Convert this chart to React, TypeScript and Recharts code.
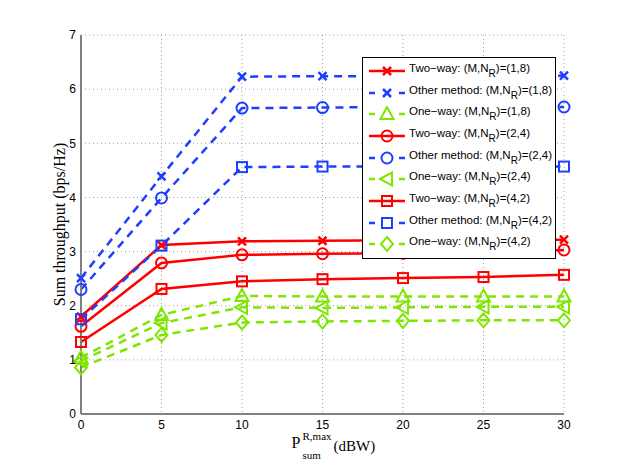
import React from 'react';
import { LineChart, Line, XAxis, YAxis, CartesianGrid, Legend, Label } from 'recharts';

const power = [0, 5, 10, 15, 20, 25, 30];

const twoWay18 = [1.8, 3.12, 3.19, 3.2, 3.21, 3.21, 3.22];
const other18 = [2.51, 4.39, 6.23, 6.24, 6.24, 6.24, 6.25];
const oneWay18 = [1.04, 1.83, 2.18, 2.17, 2.17, 2.17, 2.17];
const twoWay24 = [1.62, 2.79, 2.94, 2.96, 2.97, 2.99, 3.03];
const other24 = [2.3, 3.99, 5.65, 5.66, 5.67, 5.67, 5.67];
const oneWay24 = [0.98, 1.68, 1.97, 1.96, 1.97, 1.98, 1.98];
const twoWay42 = [1.33, 2.31, 2.45, 2.49, 2.51, 2.53, 2.57];
const other42 = [1.75, 3.11, 4.56, 4.57, 4.57, 4.57, 4.57];
const oneWay42 = [0.86, 1.46, 1.69, 1.71, 1.72, 1.73, 1.73];

const xTicks = [0, 5, 10, 15, 20, 25, 30];
const yTicks = [0, 1, 2, 3, 4, 5, 6, 7];

const RED = '#ff0000';
const BLUE = '#1f3fff';
const GREEN = '#7ee600';

const SERIF = '"Liberation Serif", "Times New Roman", serif';
const SANS = '"Liberation Sans", Arial, sans-serif';

type Shape = 'x' | 'o' | 'tri' | 'ltri' | 'sq' | 'dia';

const series = [
  { key: 'tw18', values: twoWay18, method: 'Two\u2212way', cfg: '(1,8)', color: RED, dashed: false, shape: 'x' as Shape },
  { key: 'ot18', values: other18, method: 'Other method', cfg: '(1,8)', color: BLUE, dashed: true, shape: 'x' as Shape },
  { key: 'ow18', values: oneWay18, method: 'One\u2212way', cfg: '(1,8)', color: GREEN, dashed: true, shape: 'tri' as Shape },
  { key: 'tw24', values: twoWay24, method: 'Two\u2212way', cfg: '(2,4)', color: RED, dashed: false, shape: 'o' as Shape },
  { key: 'ot24', values: other24, method: 'Other method', cfg: '(2,4)', color: BLUE, dashed: true, shape: 'o' as Shape },
  { key: 'ow24', values: oneWay24, method: 'One\u2212way', cfg: '(2,4)', color: GREEN, dashed: true, shape: 'ltri' as Shape },
  { key: 'tw42', values: twoWay42, method: 'Two\u2212way', cfg: '(4,2)', color: RED, dashed: false, shape: 'sq' as Shape },
  { key: 'ot42', values: other42, method: 'Other method', cfg: '(4,2)', color: BLUE, dashed: true, shape: 'sq' as Shape },
  { key: 'ow42', values: oneWay42, method: 'One\u2212way', cfg: '(4,2)', color: GREEN, dashed: true, shape: 'dia' as Shape },
];

const data = power.map((p, i) => {
  const row: Record<string, number> = { p };
  series.forEach((s) => { row[s.key] = s.values[i]; });
  return row;
});

const Marker = ({ cx, cy, shape, color }: { cx: number; cy: number; shape: Shape; color: string }) => {
  const common = { fill: 'none', stroke: color, strokeWidth: 2 };
  if (shape === 'x') {
    const d = 4;
    return (
      <g stroke={color} strokeWidth={2.5}>
        <line x1={cx - d} y1={cy - d} x2={cx + d} y2={cy + d} />
        <line x1={cx - d} y1={cy + d} x2={cx + d} y2={cy - d} />
      </g>
    );
  }
  if (shape === 'o') return <circle cx={cx} cy={cy} r={5.5} {...common} />;
  if (shape === 'sq') return <rect x={cx - 5} y={cy - 5} width={10} height={10} {...common} />;
  if (shape === 'tri') return <polygon points={`${cx},${cy - 7} ${cx + 6.5},${cy + 5} ${cx - 6.5},${cy + 5}`} {...common} />;
  if (shape === 'ltri') return <polygon points={`${cx - 7},${cy} ${cx + 5},${cy - 6.5} ${cx + 5},${cy + 6.5}`} {...common} />;
  return <polygon points={`${cx},${cy - 7} ${cx + 6},${cy} ${cx},${cy + 7} ${cx - 6},${cy}`} {...common} />;
};

const LegendBox = () => (
  <div
    style={{
      background: '#fff',
      border: '1px solid #000',
      width: 192,
      padding: '2px 0 3px 0',
      fontFamily: SANS,
      fontSize: 11.5,
      color: '#000',
    }}
  >
    {series.map((s) => (
      <div key={s.key} style={{ display: 'flex', alignItems: 'center', height: 21.7 }}>
        <svg width={44} height={16} style={{ marginLeft: 4, flexShrink: 0 }}>
          {s.dashed ? (
            <g stroke={s.color} strokeWidth={2.5}>
              <line x1={2} y1={8} x2={8} y2={8} />
              <line x1={32} y1={8} x2={38} y2={8} />
            </g>
          ) : (
            <line x1={2} y1={8} x2={38} y2={8} stroke={s.color} strokeWidth={2.5} />
          )}
          <Marker cx={20} cy={8} shape={s.shape} color={s.color} />
        </svg>
        <span style={{ whiteSpace: 'nowrap', marginLeft: -2, position: 'relative', top: -3 }}>
          {s.method}: (M,N
          <span style={{ fontSize: 10, position: 'relative', top: 5 }}>R</span>
          )={s.cfg}
        </span>
      </div>
    ))}
  </div>
);

const XLabel = ({ viewBox }: any) => {
  const cx = viewBox.x + viewBox.width / 2;
  const base = viewBox.y;
  const x0 = cx - 31;
  return (
    <g fontFamily={SERIF} fill="#000">
      <text x={x0} y={base + 34} fontSize={16}>P</text>
      <text x={x0 + 11} y={base + 26} fontSize={11}>R,max</text>
      <text x={x0 + 11} y={base + 45} fontSize={11}>sum</text>
      <text x={x0 + 42} y={base + 37} fontSize={15}>(dBW)</text>
    </g>
  );
};

export default function App() {
  return (
    <div style={{ position: 'absolute', left: 0, top: 0, width: 623, height: 467, background: '#fff' }}>
      <LineChart width={623} height={467} data={data} margin={{ top: 35, right: 59, bottom: 23, left: 51 }}>
        <CartesianGrid stroke="#a0a0a0" strokeDasharray="1 3" />
        <XAxis
          dataKey="p"
          type="number"
          domain={[0, 30]}
          ticks={xTicks}
          height={30}
          axisLine={{ stroke: '#808080', strokeWidth: 2 }}
          tickLine={false}
          tickSize={4}
          tickMargin={2}
          tick={{ fill: '#000', fontSize: 12, fontFamily: SANS }}
        >
          <Label content={<XLabel />} />
        </XAxis>
        <XAxis
          xAxisId="top"
          orientation="top"
          dataKey="p"
          type="number"
          domain={[0, 30]}
          ticks={xTicks}
          height={0}
          mirror
          axisLine={{ stroke: '#808080', strokeWidth: 2 }}
          tickLine={{ stroke: '#000' }}
          tickSize={4}
          tickFormatter={() => ''}
        />
        <YAxis
          type="number"
          domain={[0, 7]}
          ticks={yTicks}
          width={30}
          axisLine={{ stroke: '#808080', strokeWidth: 2 }}
          tickLine={false}
          tickSize={4}
          tickMargin={1}
          tick={{ fill: '#000', fontSize: 12, fontFamily: SANS }}
        >
          <Label
            value="Sum throughput (bps/Hz)"
            angle={-90}
            position="left"
            offset={-8}
            style={{ fontFamily: SERIF, fontSize: 16, fill: '#000', textAnchor: 'middle' }}
          />
        </YAxis>
        <YAxis
          yAxisId="right"
          orientation="right"
          type="number"
          domain={[0, 7]}
          ticks={yTicks}
          width={0}
          mirror
          axisLine={{ stroke: '#000', strokeWidth: 1.5 }}
          tickLine={{ stroke: '#000' }}
          tickSize={4}
          tickFormatter={() => ''}
        />
        {series.map((s) => (
          <Line
            key={s.key}
            dataKey={s.key}
            type="linear"
            stroke={s.color}
            strokeWidth={2.5}
            strokeDasharray={s.dashed ? '8 6' : undefined}
            isAnimationActive={false}
            dot={(props: any) => (
              <Marker key={`${s.key}-${props.index}`} cx={props.cx} cy={props.cy} shape={s.shape} color={s.color} />
            )}
            activeDot={false}
          />
        ))}
        <Legend
          layout="vertical"
          align="center"
          verticalAlign="middle"
          content={() => <LegendBox />}
          wrapperStyle={{ position: 'absolute', left: 362, top: 57, width: 194 }}
        />
      </LineChart>
    </div>
  );
}
